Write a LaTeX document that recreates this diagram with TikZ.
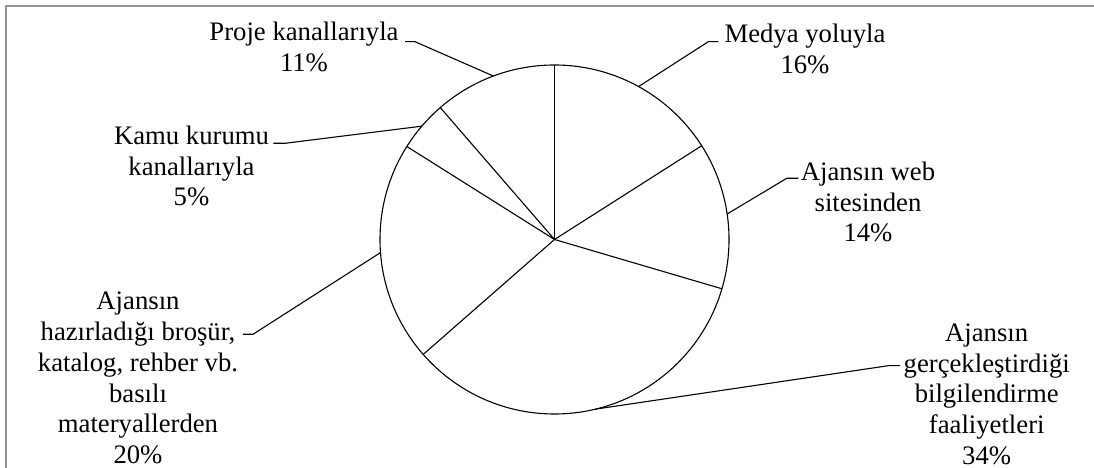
\documentclass[tikz,border=0pt]{standalone}
\usepackage{fontspec}
\setmainfont{Liberation Serif}
\usetikzlibrary{calc}
\begin{document}
\begin{tikzpicture}[x=1pt,y=1pt,line width=1.1pt,
    lbl/.style={align=center,inner sep=0pt,font=\fontsize{26.7}{30.8}\selectfont},
    leader/.style={line width=1.1pt}]
    \useasboundingbox (0,0) rectangle (1094,468);
    \draw [gray!85,line width=2pt] (6,0) -- (6,462) -- (1094,462);
    % pie
    \coordinate (c) at (554.5,228.5);
    \draw (c) circle (174.5);
    \draw (c) -- +(90:174.5);
    \draw (c) -- +(32.5:174.5);
    \draw (c) -- +(-16.4:174.5);
    \draw (c) -- +(-138.8:174.5);
    \draw (c) -- +(147.8:174.5);
    \draw (c) -- +(130.9:174.5);
    % labels
    \node [lbl] (proje) at (304,421.3) {Proje kanallarıyla\\11\%};
    \node [lbl] (kamu) at (191.5,302) {Kamu kurumu\\kanallarıyla\\5\%};
    \node [lbl] (medya) at (805,419) {Medya yoluyla\\16\%};
    \node [lbl] (web) at (868,266) {Ajansın web\\sitesinden\\14\%};
    \node [lbl] (basili) at (138,90) {Ajansın\\hazırladığı broşür,\\katalog, rehber vb.\\basılı\\materyallerden\\20\%};
    \node [lbl] (faaliyet) at (986.7,73.8) {Ajansın\\gerçekleştirdiği\\bilgilendirme\\faaliyetleri\\34\%};
    % leader lines
    \coordinate (projea) at (405,426.3);
    \coordinate (projeb) at (415,426.3);
    \coordinate (projec) at ($(c)+(110.5:174.5)$);
    \coordinate (kamua) at (273.3,324.7);
    \coordinate (kamub) at (285,324.7);
    \coordinate (kamuc) at ($(c)+(139.5:174.5)$);
    \coordinate (medyaa) at (718.3,426.3);
    \coordinate (medyab) at (708.3,426.3);
    \coordinate (medyac) at ($(c)+(61.2:174.5)$);
    \coordinate (weba) at (798.3,289.7);
    \coordinate (webb) at (786.7,289.7);
    \coordinate (webc) at ($(c)+(8.4:174.5)$);
    \coordinate (basilia) at (243,133.7);
    \coordinate (basilib) at (253,133.7);
    \coordinate (basilic) at ($(c)+(184.3:174.5)$);
    \coordinate (faaliyeta) at (900,102.3);
    \coordinate (faaliyetb) at (888.3,102.3);
    \coordinate (faaliyetc) at ($(c)+(-76.5:174.5)$);
    \draw [leader] (projea) -- (projeb) -- (projec);
    \draw [leader] (kamua) -- (kamub) -- (kamuc);
    \draw [leader] (medyaa) -- (medyab) -- (medyac);
    \draw [leader] (weba) -- (webb) -- (webc);
    \draw [leader] (basilia) -- (basilib) -- (basilic);
    \draw [leader] (faaliyeta) -- (faaliyetb) -- (faaliyetc);
\end{tikzpicture}
\end{document}
